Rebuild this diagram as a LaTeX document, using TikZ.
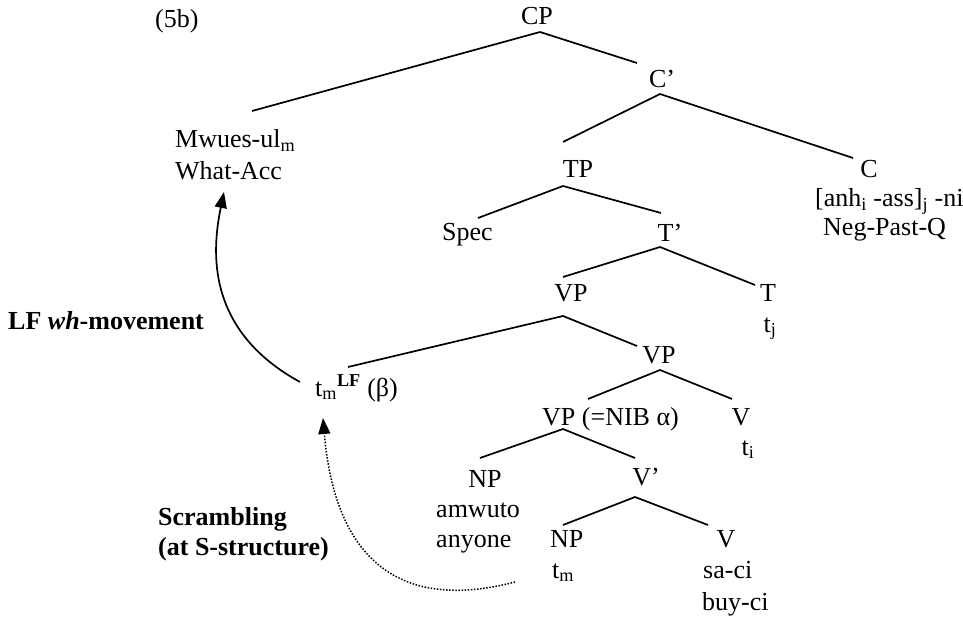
\documentclass[tikz,border=0pt]{standalone}
\usepackage{fontspec}
\setmainfont{Liberation Serif}
\usetikzlibrary{arrows.meta}
\newcommand\labfont{\fontsize{26}{30}\selectfont}
\tikzset{
  lab/.style={inner sep=0pt, font=\labfont, anchor=base},
  labw/.style={inner sep=0pt, font=\labfont, anchor=base west},
  branch/.style={line width=1.7pt},
  movearrow/.style={line width=1.7pt, -{Triangle[length=16pt,width=12pt]}},
  scramarrow/.style={line width=1.5pt, dash pattern=on 1.5pt off 1.6pt, -{Triangle[length=16pt,width=12pt]}}
}
\begin{document}
\begin{tikzpicture}[x=1pt,y=-1pt]
\fill[white] (0,0) rectangle (963,617);
\useasboundingbox (0,0) rectangle (963,617);
% labels
\node[labw] (n5b) at (155,28) {(5b)};
\node[lab] (CP) at (537,25) {CP};
\node[lab] (Cbar) at (662,88) {C’};
\node[labw] (mw1) at (175,148) {Mwues-ul\textsubscript{m}};
\node[labw] (mw2) at (175,180) {What-Acc};
\node[lab] (TP) at (578,178) {TP};
\node[lab] (C) at (869,178) {C};
\node[labw] (anh) at (815,207) {[anh\textsubscript{i} -ass]\textsubscript{j} -ni};
\node[labw] (neg) at (823,236) {Neg-Past-Q};
\node[labw] (Spec) at (442,241) {Spec};
\node[lab] (Tbar) at (670,242) {T’};
\node[lab] (VPa) at (571,302) {VP};
\node[lab] (T) at (768,302) {T};
\node[lab] (tj) at (770,332) {t\textsubscript{j}};
\node[lab] (VPb) at (659,363) {VP};
\node[labw] (tLF) at (315,396) {t\textsubscript{m}\textsuperscript{\textbf{LF}} (β)};
\node[labw] (VPc) at (542,425) {VP (=NIB α)};
\node[lab] (Va) at (741,425) {V};
\node[lab] (ti) at (748,455) {t\textsubscript{i}};
\node[lab] (NPa) at (485,487) {NP};
\node[lab] (Vbar) at (646,485) {V’};
\node[labw] (amw) at (436,517) {amwuto};
\node[labw] (any) at (436,547) {anyone};
\node[labw] (NPb) at (550,547) {NP};
\node[lab] (Vb) at (726,547) {V};
\node[labw] (tm) at (552,578) {t\textsubscript{m}};
\node[labw] (saci) at (703,578) {sa-ci};
\node[labw] (buyci) at (702,610) {buy-ci};
\node[labw] (lfwh) at (8,330) {\textbf{LF \textit{wh}-movement}};
\node[labw] (scr1) at (158,525) {\textbf{Scrambling}};
\node[labw] (scr2) at (158,555) {\textbf{(at S-structure)}};
% attachment points
\coordinate (CPb) at (540,32);
\coordinate (mwt) at (252,111);
\coordinate (Cbart) at (637,63);
\coordinate (Cbarb) at (660,94);
\coordinate (TPt) at (563,142);
\coordinate (Ct) at (853,158);
\coordinate (TPb) at (563,186);
\coordinate (Spect) at (478,218);
\coordinate (Tbart) at (661,213);
\coordinate (Tbarb) at (660,247);
\coordinate (VPat) at (563,277);
\coordinate (Tt) at (755,285);
\coordinate (VPab) at (563,316);
\coordinate (tLFt) at (348,367);
\coordinate (VPbt) at (637,346);
\coordinate (VPbb) at (660,370);
\coordinate (VPct) at (588,399);
\coordinate (Vat) at (732,399);
\coordinate (VPcb) at (563,429);
\coordinate (NPat) at (480,458);
\coordinate (Vbart) at (635,458);
\coordinate (Vbarb) at (635,497);
\coordinate (NPbt) at (563,525);
\coordinate (Vbt) at (708,525);
\coordinate (wstart) at (300,382);
\coordinate (wend) at (224,192);
\coordinate (sstart) at (515,582);
\coordinate (send) at (323,418);
% branches
\draw[branch] (mwt) -- (CPb) -- (Cbart);
\draw[branch] (TPt) -- (Cbarb) -- (Ct);
\draw[branch] (Spect) -- (TPb) -- (Tbart);
\draw[branch] (VPat) -- (Tbarb) -- (Tt);
\draw[branch] (tLFt) -- (VPab) -- (VPbt);
\draw[branch] (VPct) -- (VPbb) -- (Vat);
\draw[branch] (NPat) -- (VPcb) -- (Vbart);
\draw[branch] (NPbt) -- (Vbarb) -- (Vbt);
% movement arrows
\draw[movearrow] (wstart) .. controls (205,330) and (212,250) .. (wend);
\draw[scramarrow] (sstart) .. controls (400,612) and (335,560) .. (send);
\end{tikzpicture}
\end{document}
